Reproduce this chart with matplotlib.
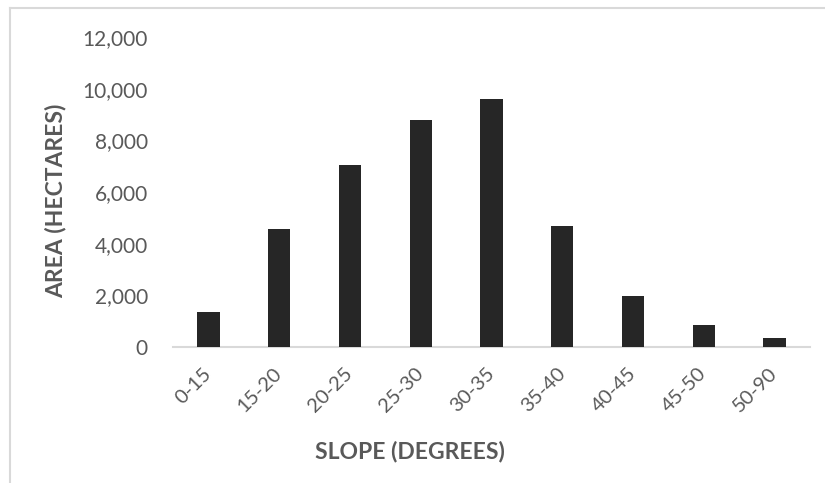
import matplotlib
matplotlib.use("Agg")
import matplotlib.pyplot as plt
from matplotlib.ticker import FuncFormatter, MultipleLocator
from matplotlib.lines import Line2D

plt.rcParams['font.family'] = ['Lato', 'DejaVu Sans']

categories = ["0-15", "15-20", "20-25", "25-30", "30-35", "35-40", "40-45", "45-50", "50-90"]
area_ha = [1340, 4580, 7050, 8780, 9610, 4670, 1960, 840, 340]

W, H = 825, 483
fig = plt.figure(figsize=(W / 100, H / 100), dpi=100)

# chart frame (top and left edges)
frame_color = "#d9d9d9"
fig.add_artist(Line2D([9.5 / W, 9.5 / W], [1 - 7.5 / H, 0], transform=fig.transFigure,
                      color=frame_color, lw=1.5))
fig.add_artist(Line2D([9.5 / W, 1], [1 - 7.5 / H, 1 - 7.5 / H], transform=fig.transFigure,
                      color=frame_color, lw=1.5))

ax = fig.add_axes([173 / W, 1 - 347 / H, (810 - 173) / W, (347 - 37) / H])
x = range(len(categories))
ax.bar(x, area_ha, width=0.315, color="#262626", zorder=3)

ax.set_xlim(-0.5, len(categories) - 0.5)
ax.set_ylim(0, 12000)
ax.yaxis.set_major_locator(MultipleLocator(2000))
ax.yaxis.set_major_formatter(FuncFormatter(lambda v, p: f"{int(v):,}"))

for side in ("top", "right", "left"):
    ax.spines[side].set_visible(False)
ax.spines["bottom"].set_color(frame_color)
ax.spines["bottom"].set_linewidth(1.5)

ax.set_xticks(list(x))
ax.set_xticklabels(categories, rotation=45, ha="right", va="center",
                   rotation_mode="anchor")
ax.tick_params(axis="x", length=0, pad=17, labelsize=14.5, labelcolor="#595959")
ax.tick_params(axis="y", length=0, pad=18, labelsize=15, labelcolor="#595959")

fig.text(56 / W, 1 - 201 / H, "AREA (HECTARES)", rotation=90, ha="center", va="center",
         fontsize=16.5, fontweight="bold", color="#595959")
fig.text(410 / W, 1 - 451 / H, "SLOPE (DEGREES)", ha="center", va="center",
         fontsize=16.5, fontweight="bold", color="#595959")

fig.savefig("out.png", dpi=100, facecolor="white")
